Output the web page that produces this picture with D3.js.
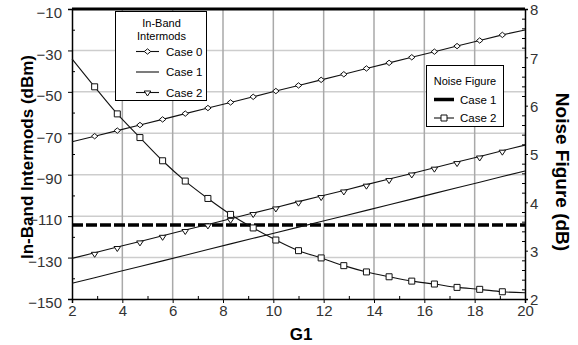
<!DOCTYPE html>
<html><head><meta charset="utf-8">
<script src="https://cdn.jsdelivr.net/npm/d3@7"></script>
<style>body{margin:0;background:#fff;} svg{display:block;font-family:Arial,"Liberation Sans",sans-serif;}</style>
</head><body><svg id="c" width="578" height="345"></svg>
<script>
// ---- data ----
const g1 = [2, 2.9, 3.8, 4.7, 5.6, 6.5, 7.4, 8.3, 9.2, 10.1, 11.0, 11.9, 12.8, 13.7, 14.6, 15.5, 16.4, 17.3, 18.2, 19.1, 20];
const case0 = [-74.1, -71.4, -68.7, -66.0, -63.3, -60.5, -57.8, -55.1, -52.4, -49.6, -46.9, -44.2, -41.5, -38.7, -36.0, -33.3, -30.6, -27.9, -25.2, -22.5, -20.1];
const case1 = [-142.4, -139.7, -137.0, -134.3, -131.6, -128.9, -126.1, -123.4, -120.7, -118.0, -115.3, -112.6, -109.9, -107.2, -104.5, -101.8, -99.0, -96.3, -93.6, -90.9, -88.2];
const case2 = [-130.4, -127.7, -124.9, -122.2, -119.5, -116.7, -114.0, -111.3, -108.5, -105.8, -103.0, -100.3, -97.6, -94.8, -92.1, -89.4, -86.6, -83.9, -81.2, -78.4, -75.7];
const nfCase1 = [3.53, 3.53, 3.53, 3.53, 3.53, 3.53, 3.53, 3.53, 3.53, 3.53, 3.53, 3.53, 3.53, 3.53, 3.53, 3.53, 3.53, 3.53, 3.53, 3.53, 3.53];
const nfCase2 = [6.97, 6.39, 5.83, 5.34, 4.86, 4.44, 4.08, 3.75, 3.47, 3.22, 3.00, 2.85, 2.69, 2.56, 2.46, 2.37, 2.31, 2.24, 2.20, 2.15, 2.13];
const xTicks = [2, 4, 6, 8, 10, 12, 14, 16, 18, 20];
const xMinor = [3, 5, 7, 9, 11, 13, 15, 17, 19];
const yLeftTicks = [-10, -30, -50, -70, -90, -110, -130, -150];
const yLeftMinor = [-20, -40, -60, -80, -100, -120, -140];
const yRightTicks = [2, 3, 4, 5, 6, 7, 8];
const yRightMinor = [2.2,2.4,2.6,2.8,3.2,3.4,3.6,3.8,4.2,4.4,4.6,4.8,5.2,5.4,5.6,5.8,6.2,6.4,6.6,6.8,7.2,7.4,7.6,7.8];
const legendIMTitle = ["In-Band", "Intermods"];
const legendIMLabels = ["Case 0", "Case 1", "Case 2"];
const legendNFTitle = "Noise Figure";
const legendNFLabels = ["Case 1", "Case 2"];

// ---- layout ----
const L = 72, R = 525, T = 9, B = 299;
const svg = d3.select("#c");
const x = d3.scaleLinear().domain([2, 20]).range([L, R]);
const yL = d3.scaleLinear().domain([-150, -10]).range([B, T]);
const yR = d3.scaleLinear().domain([2, 8]).range([B, T]);

// grid
svg.append("g").selectAll("line").data(yLeftTicks.slice(1, -1)).join("line")
  .attr("x1", L).attr("x2", R).attr("y1", d => yL(d)).attr("y2", d => yL(d))
  .attr("stroke", "#cdcdcd").attr("stroke-width", 1.5);
svg.append("g").selectAll("line").data(xTicks.slice(1, -1)).join("line")
  .attr("y1", T).attr("y2", B).attr("x1", d => x(d)).attr("x2", d => x(d))
  .attr("stroke", "#a9a9a9").attr("stroke-width", 1.5);

// axes
function styleAxis(g) {
  g.select(".domain").attr("stroke", "#000").attr("stroke-width", 1.5);
  g.selectAll(".tick line").attr("stroke", "#000").attr("stroke-width", 1);
  g.selectAll("text").attr("fill", "#333").attr("font-size", 15);
  g.attr("font-family", null);
}
const axL = svg.append("g").attr("transform", `translate(${L},0)`)
  .call(d3.axisLeft(yL).tickValues(yLeftTicks).tickSize(4).tickPadding(6).tickFormat(d3.format("d")));
styleAxis(axL);
axL.selectAll("text").attr("y", 4);
svg.append("g").attr("transform", `translate(${L},0)`)
  .call(d3.axisLeft(yL).tickValues(yLeftMinor).tickSize(-3).tickFormat(""))
  .call(g => { g.select(".domain").remove(); g.selectAll("line").attr("stroke", "#000"); });

const axB = svg.append("g").attr("transform", `translate(0,${B})`)
  .call(d3.axisBottom(x).tickValues(xTicks).tickSize(4).tickPadding(2).tickFormat(d3.format("d")));
styleAxis(axB);
svg.append("g").attr("transform", `translate(0,${B})`)
  .call(d3.axisBottom(x).tickValues(xMinor).tickSize(-3).tickFormat(""))
  .call(g => { g.select(".domain").remove(); g.selectAll("line").attr("stroke", "#000"); });

const axR = svg.append("g").attr("transform", `translate(${R},0)`)
  .call(d3.axisRight(yR).tickValues(yRightTicks).tickSize(3).tickPadding(2).tickFormat(d3.format("d")));
styleAxis(axR);
axR.selectAll("text").attr("y", 1);
svg.append("g").attr("transform", `translate(${R},0)`)
  .call(d3.axisRight(yR).tickValues(yRightMinor).tickSize(-3).tickFormat(""))
  .call(g => { g.select(".domain").remove(); g.selectAll("line").attr("stroke", "#000"); });

// top border
svg.append("line").attr("x1", L).attr("x2", R).attr("y1", T).attr("y2", T)
  .attr("stroke", "#000").attr("stroke-width", 3);

// titles
svg.append("text").attr("transform", `translate(27,157) rotate(-90)`)
  .attr("text-anchor", "middle").attr("dominant-baseline", "central")
  .attr("font-weight", "bold").attr("font-size", 17).text("In-Band Intermods (dBm)");
svg.append("text").attr("transform", `translate(562,172) rotate(90)`)
  .attr("text-anchor", "middle").attr("dominant-baseline", "central")
  .attr("font-weight", "bold").attr("font-size", 19).text("Noise Figure (dB)");
svg.append("text").attr("x", 301).attr("y", 340)
  .attr("text-anchor", "middle")
  .attr("font-weight", "bold").attr("font-size", 17).text("G1");

// series lines
const lineL = d3.line().x((d, i) => x(g1[i])).y(d => yL(d));
const lineR = d3.line().x((d, i) => x(g1[i])).y(d => yR(d));
const lineRc = d3.line().x((d, i) => x(g1[i])).y(d => yR(d)).curve(d3.curveMonotoneX);

const plot = svg.append("g");
plot.append("path").attr("d", lineR(nfCase1)).attr("fill", "none")
  .attr("stroke", "#000").attr("stroke-width", 3.5).attr("stroke-dasharray", "11,3");
[case0, case1, case2].forEach(s => plot.append("path").attr("d", lineL(s))
  .attr("fill", "none").attr("stroke", "#111").attr("stroke-width", 1.1));
plot.append("path").attr("d", lineRc(nfCase2)).attr("fill", "none")
  .attr("stroke", "#111").attr("stroke-width", 1.1);

// markers
const diamond = (cx, cy) => `M${cx-3.2},${cy}L${cx},${cy-2.7}L${cx+3.2},${cy}L${cx},${cy+2.7}Z`;
const tri = (cx, cy) => `M${cx-3.3},${cy-1.5}L${cx+3.3},${cy-1.5}L${cx},${cy+3.5}Z`;
const square = (cx, cy) => `M${cx-3},${cy-3}h6v6h-6Z`;
const idx = g1.map((d, i) => i).slice(1, -1);
plot.append("g").selectAll("path").data(idx).join("path")
  .attr("d", i => diamond(x(g1[i]), yL(case0[i])))
  .attr("fill", "#fff").attr("stroke", "#111").attr("stroke-width", 1);
plot.append("g").selectAll("path").data(idx).join("path")
  .attr("d", i => tri(x(g1[i]), yL(case2[i]) + 1))
  .attr("fill", "#fff").attr("stroke", "#111").attr("stroke-width", 1);
plot.append("g").selectAll("path").data(idx).join("path")
  .attr("d", i => square(x(g1[i]), yR(nfCase2[i])))
  .attr("fill", "#fff").attr("stroke", "#111").attr("stroke-width", 1);

// legend 1
const lg1 = svg.append("g");
lg1.append("rect").attr("x", 115.5).attr("y", 11.5).attr("width", 91).attr("height", 89)
  .attr("fill", "#fff").attr("stroke", "#000").attr("stroke-width", 1);
legendIMTitle.forEach((t, i) => lg1.append("text").attr("x", 161.5).attr("y", 23 + i * 12.5)
  .attr("text-anchor", "middle").attr("dominant-baseline", "central").attr("font-size", 11).text(t));
legendIMLabels.forEach((t, i) => {
  const yy = 51.5 + i * 20.5;
  lg1.append("line").attr("x1", 136).attr("x2", 159).attr("y1", yy).attr("y2", yy)
    .attr("stroke", "#111").attr("stroke-width", 1.1);
  if (i === 0) lg1.append("path").attr("d", diamond(147.5, yy)).attr("fill", "#fff").attr("stroke", "#111");
  if (i === 2) lg1.append("path").attr("d", tri(147.5, yy)).attr("fill", "#fff").attr("stroke", "#111");
  lg1.append("text").attr("x", 166).attr("y", yy).attr("dominant-baseline", "central")
    .attr("font-size", 11.5).text(t);
});

// legend 2
const lg2 = svg.append("g");
lg2.append("rect").attr("x", 426.5).attr("y", 65.5).attr("width", 77).attr("height", 61)
  .attr("fill", "#fff").attr("stroke", "#000").attr("stroke-width", 1);
lg2.append("text").attr("x", 465).attr("y", 81).attr("text-anchor", "middle")
  .attr("dominant-baseline", "central").attr("font-size", 11).text(legendNFTitle);
legendNFLabels.forEach((t, i) => {
  const yy = 99.5 + i * 18.5;
  if (i === 0) lg2.append("line").attr("x1", 434).attr("x2", 454).attr("y1", yy).attr("y2", yy)
    .attr("stroke", "#000").attr("stroke-width", 3.5);
  else {
    lg2.append("line").attr("x1", 434).attr("x2", 454).attr("y1", yy).attr("y2", yy)
      .attr("stroke", "#111").attr("stroke-width", 1.1);
    lg2.append("path").attr("d", square(444, yy)).attr("fill", "#fff").attr("stroke", "#111");
  }
  lg2.append("text").attr("x", 460).attr("y", yy).attr("dominant-baseline", "central")
    .attr("font-size", 11.5).text(t);
});
</script></body></html>
